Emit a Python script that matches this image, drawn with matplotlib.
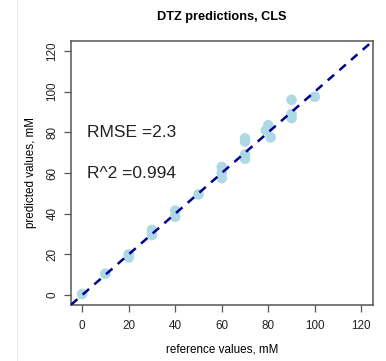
import numpy as np
import matplotlib.pyplot as plt
from matplotlib.lines import Line2D

plt.rcParams['font.family'] = ['Liberation Sans', 'DejaVu Sans']

# reference vs predicted concentrations (mM)
ref_vals  = [0, 10, 20, 20, 30, 30, 40, 40, 50, 60, 60, 60,
             70, 70, 70, 70, 80, 79, 81, 90, 90, 90, 100]
pred_vals = [0.5, 10.5, 20, 18.5, 32, 29.5, 41.5, 38.5, 49.5, 63, 60, 57.5,
             77, 75.5, 69, 67, 83.5, 81, 77.5, 96, 89, 87, 97.5]
ticks = [0, 20, 40, 60, 80, 100, 120]
rmse_text = "RMSE =2.3"
r2_text = "R^2 =0.994"

fig = plt.figure(figsize=(3.86, 3.61), dpi=100)
ax = fig.add_axes([71 / 386, 1 - 304.8 / 361, 301.5 / 386, 263.6 / 361])

ax.scatter(ref_vals, pred_vals, s=58, color='#add8e6', edgecolors='none', zorder=2)
ax.plot([-4.8, 124.8], [-4.8, 124.8], color='#00008b', lw=1.8,
        dashes=(3.4, 2.8), zorder=3)

ax.text(2, 80, rmse_text, fontsize=12.5, va='center', ha='left', color='#222222')
ax.text(2, 60, r2_text, fontsize=12.5, va='center', ha='left', color='#222222')

ax.set_xlim(-4.8, 124.8)
ax.set_ylim(-4.8, 124.8)
ax.set_xticks(ticks)
ax.set_yticks(ticks)
ax.tick_params(length=5, width=0.9, color='#555555', labelsize=8.4,
               labelcolor='#222222')
ax.tick_params(axis='x', pad=6)
ax.tick_params(axis='y', pad=4)
for lab in ax.get_yticklabels():
    lab.set_rotation(90)
    lab.set_va('center')
for sp in ax.spines.values():
    sp.set_color('#555555')
    sp.set_linewidth(1.1)

ax.set_title("DTZ predictions, CLS", fontsize=9.2, fontweight='bold', pad=15)
ax.set_xlabel("reference values, mM", fontsize=8.4, labelpad=8)
ax.set_ylabel("predicted values, mM", fontsize=8.4, labelpad=7)

# faint page edge on the left
fig.add_artist(Line2D([17 / 386, 17 / 386], [0, 1], color='#ebebeb', lw=0.8))

fig.savefig("out.png", dpi=100)
